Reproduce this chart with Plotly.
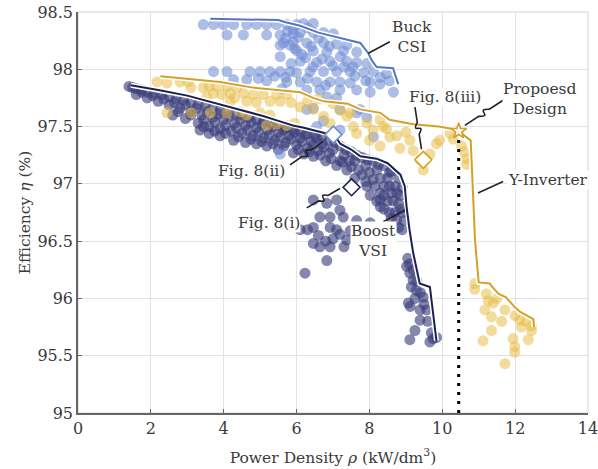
import math
import plotly.graph_objects as go

# ---------------------------------------------------------------------------
# Design-space points (power density rho in kW/dm^3, efficiency eta in %)
# ---------------------------------------------------------------------------
BUCK_CSI_POINTS = [
    (3.44, 98.39), (3.72, 98.39), (3.99, 98.39), (4.27, 98.39), (4.63, 98.39), (4.90, 98.39),
    (5.18, 98.39), (5.45, 98.39), (5.73, 98.39), (6.00, 98.39), (6.19, 98.40), (6.46, 98.40),
    (4.09, 98.30), (4.54, 98.30), (5.18, 98.30), (5.55, 98.30), (5.91, 98.31), (6.10, 98.32),
    (6.46, 98.32), (6.74, 98.32), (7.01, 98.31),
    (5.55, 98.21), (5.82, 98.21), (5.64, 98.23), (5.91, 98.24), (6.28, 98.23), (6.74, 98.23),
    (7.10, 98.22), (7.38, 98.21),
    (6.01, 98.16), (6.46, 98.16), (6.83, 98.15), (7.29, 98.16), (7.65, 98.15),
    (5.55, 98.11), (6.25, 98.10), (6.70, 98.09),
    (6.10, 98.07), (6.55, 98.06), (6.92, 98.07), (7.38, 98.07), (7.65, 98.06), (7.93, 98.05),
    (3.72, 97.98), (4.09, 97.98), (4.72, 97.98), (5.00, 97.98), (5.27, 97.98), (5.55, 97.98),
    (5.82, 97.98), (6.00, 97.97), (6.37, 97.98), (6.74, 97.98), (7.10, 97.98), (7.47, 97.98),
    (7.84, 97.97), (8.11, 97.98), (8.47, 97.96),
    (4.27, 97.91), (4.63, 97.91), (5.18, 97.90), (5.73, 97.89), (6.10, 97.89), (6.55, 97.89),
    (6.92, 97.89), (7.19, 97.89), (7.47, 97.88), (8.02, 97.89), (8.30, 97.93),
    (5.60, 97.83), (6.28, 97.82), (6.64, 97.82), (7.19, 97.82), (7.65, 97.82), (8.02, 97.80),
    (8.29, 97.87), (8.66, 97.80),
    (6.83, 97.76), (7.10, 97.75),
    (6.28, 97.65), (6.46, 97.66), (7.19, 97.65), (7.74, 97.65), (6.74, 97.55),
    (6.55, 97.50), (7.19, 97.47), (7.65, 97.62), (7.93, 97.58), (8.11, 97.41), (5.55, 97.26),
    (5.90, 98.35), (6.30, 98.36), (5.70, 98.27), (6.60, 98.27), (6.90, 98.20), (5.95, 98.18),
    (7.00, 98.03), (7.30, 98.02), (6.45, 98.02), (5.70, 97.93), (6.30, 97.92), (6.80, 97.86),
    (7.60, 97.94), (7.90, 97.90), (8.55, 97.90), (5.75, 98.33), (6.05, 98.28), (6.40, 98.20),
    (6.15, 98.13), (5.85, 98.05), (5.40, 97.94), (4.95, 97.92), (7.20, 98.11), (7.55, 98.02),
]

Y_INVERTER_POINTS = [
    (2.17, 97.89), (2.44, 97.88), (2.80, 97.89), (3.02, 97.89),
    (3.10, 97.84), (3.44, 97.84), (3.60, 97.85), (3.80, 97.85), (4.09, 97.85), (4.36, 97.84),
    (3.53, 97.76), (3.72, 97.79), (3.95, 97.78), (4.18, 97.79), (4.30, 97.75), (4.54, 97.79),
    (4.81, 97.78), (5.09, 97.78), (5.45, 97.78), (5.73, 97.78),
    (4.18, 97.72), (4.63, 97.72), (4.90, 97.71), (5.27, 97.72), (5.55, 97.72), (5.85, 97.71),
    (2.44, 97.62), (3.11, 97.62), (3.63, 97.62), (4.09, 97.62), (4.45, 97.63), (4.63, 97.60),
    (5.00, 97.62), (5.27, 97.60),
    (5.18, 97.51), (5.45, 97.52), (5.73, 97.51), (5.95, 97.53),
    (6.10, 97.67), (6.46, 97.65), (6.30, 97.72), (6.60, 97.74), (7.00, 97.70), (6.74, 97.59),
    (6.92, 97.53), (7.20, 97.64), (7.38, 97.59), (7.56, 97.50), (7.47, 97.62), (7.65, 97.44),
    (7.93, 97.53), (8.29, 97.56), (8.38, 97.50), (8.10, 97.47), (8.00, 97.38),
    (8.29, 97.33), (8.47, 97.48), (8.56, 97.41), (8.75, 97.42), (9.00, 97.45), (8.84, 97.31),
    (9.11, 97.38), (9.20, 97.29), (9.39, 97.21), (9.48, 97.12), (9.66, 97.26), (9.84, 97.35),
    (9.93, 97.38), (10.21, 97.44), (10.30, 97.39), (10.53, 97.33), (10.60, 97.28),
    (10.67, 97.22), (10.67, 97.17),
    (10.89, 96.13), (10.89, 96.08), (11.21, 96.04), (11.26, 95.98), (11.40, 95.96),
    (11.50, 96.00), (11.17, 95.90), (11.35, 95.84), (11.63, 95.80), (11.72, 95.90),
    (12.00, 95.85), (12.13, 95.81), (12.17, 95.75), (12.30, 95.80), (12.45, 95.76),
    (12.45, 95.72), (11.35, 95.72), (11.12, 95.63), (11.94, 95.65), (11.99, 95.58),
    (11.99, 95.53), (12.36, 95.64), (11.72, 95.43),
]

BOOST_VSI_POINTS = [
    # upper edge of the cloud, just under the front
    (1.40, 97.85), (1.50, 97.84), (1.60, 97.83), (1.75, 97.82), (1.90, 97.80), (2.10, 97.79),
    (2.30, 97.78), (2.50, 97.76), (2.70, 97.74), (2.90, 97.73), (3.10, 97.71), (3.30, 97.69),
    (3.50, 97.68), (3.70, 97.66), (3.90, 97.64), (4.10, 97.63), (4.30, 97.61), (4.50, 97.60),
    (4.70, 97.58), (4.90, 97.56), (5.10, 97.55), (5.30, 97.53), (5.50, 97.51), (5.70, 97.49),
    (5.90, 97.47), (6.10, 97.46), (6.30, 97.44), (6.50, 97.42), (6.70, 97.41),
    (1.75, 97.80), (2.05, 97.77), (2.35, 97.74), (2.65, 97.71), (2.95, 97.69), (3.25, 97.66),
    (3.55, 97.63), (3.85, 97.61), (4.15, 97.59), (4.45, 97.56), (4.75, 97.54), (5.05, 97.52),
    (5.35, 97.50), (5.65, 97.47), (5.95, 97.45), (6.25, 97.43), (6.55, 97.40),
    (1.60, 97.78), (1.90, 97.75), (2.20, 97.72), (2.50, 97.69), (2.80, 97.66), (3.10, 97.63),
    (3.40, 97.60), (3.70, 97.58), (4.00, 97.56), (4.30, 97.53), (4.60, 97.51), (4.90, 97.49),
    (5.20, 97.47), (5.50, 97.45), (5.80, 97.42), (6.10, 97.40), (6.40, 97.37), (6.70, 97.35),
    (2.75, 97.63), (3.10, 97.60), (3.45, 97.56), (3.75, 97.54), (4.05, 97.51), (4.35, 97.49),
    (4.65, 97.47), (4.95, 97.45), (5.25, 97.43), (5.55, 97.41), (5.85, 97.39), (6.15, 97.37),
    (6.45, 97.34), (6.75, 97.32),
    (2.60, 97.60), (2.95, 97.57), (3.30, 97.53), (3.60, 97.50), (3.90, 97.48), (4.20, 97.46),
    (4.50, 97.44), (4.80, 97.42), (5.10, 97.40), (5.40, 97.38), (5.70, 97.36), (6.00, 97.34),
    (6.30, 97.31), (6.60, 97.29), (6.90, 97.27),
    (3.45, 97.50), (3.75, 97.46), (4.05, 97.44), (4.40, 97.41), (4.75, 97.39), (5.05, 97.37),
    (5.35, 97.35), (5.65, 97.33), (6.05, 97.30), (6.35, 97.28), (6.65, 97.25), (6.95, 97.22),
    (7.25, 97.19),
    # lower edge of the band
    (3.35, 97.47), (3.60, 97.44), (3.90, 97.42), (4.27, 97.38), (4.60, 97.36), (4.90, 97.35),
    (5.18, 97.33), (5.50, 97.30), (5.91, 97.27), (6.20, 97.26), (6.46, 97.24), (6.80, 97.20),
    (7.10, 97.16), (7.38, 97.12),
    # knee region
    (6.90, 97.38), (7.20, 97.33), (7.50, 97.28), (7.80, 97.23), (8.10, 97.20), (8.40, 97.16),
    (8.60, 97.11), (8.80, 97.05), (8.90, 96.97),
    (7.05, 97.36), (7.35, 97.30), (7.65, 97.25), (7.95, 97.21), (8.25, 97.17), (8.55, 97.10),
    (7.00, 97.30), (7.30, 97.25), (7.60, 97.20), (7.90, 97.16), (8.20, 97.12), (8.50, 97.05),
    (8.70, 96.98), (8.85, 96.90),
    (7.20, 97.20), (7.45, 97.20), (7.70, 97.12), (8.00, 97.10), (8.30, 97.05), (8.55, 96.98),
    (8.75, 96.92), (7.60, 97.05), (7.90, 97.02), (8.15, 96.98), (8.40, 96.90), (8.65, 96.85),
    (8.85, 96.78), (8.30, 96.80), (8.55, 96.75), (8.75, 96.68), (8.90, 96.60),
    (7.50, 97.15), (7.80, 97.08), (8.10, 97.04), (8.40, 96.98), (8.60, 96.92), (8.80, 96.83),
    (8.90, 96.75), (8.95, 96.68), (8.70, 96.75), (8.50, 96.85), (8.30, 96.92),
    (7.93, 96.98), (8.02, 96.90), (8.20, 96.85), (8.40, 96.78), (8.60, 96.70), (8.80, 96.62),
    (8.29, 96.86), (8.02, 96.66), (7.93, 96.55), (7.38, 96.51),
    # scattered low-efficiency designs
    (6.46, 96.86), (6.83, 96.83), (7.10, 96.86), (7.19, 96.77), (7.28, 96.71), (6.64, 96.71),
    (6.92, 96.71), (6.46, 96.62), (6.92, 96.62), (7.19, 96.56), (7.47, 96.59), (7.65, 96.68),
    (6.60, 96.55), (6.30, 96.60), (6.80, 96.50), (7.00, 96.52), (6.46, 96.48), (6.64, 96.45),
    (6.92, 96.45), (6.83, 96.33), (6.23, 96.22), (7.30, 96.45), (6.10, 96.60), (7.10, 96.60),
    (9.02, 96.28), (9.11, 96.22), (9.20, 96.16), (9.29, 96.07), (9.48, 96.01), (9.57, 95.90),
    (9.07, 95.96), (9.12, 95.93), (9.39, 95.90), (9.39, 95.81), (9.25, 95.72), (9.11, 95.64),
    (9.66, 95.62), (9.75, 95.65), (9.84, 95.66), (9.05, 96.35), (9.10, 96.30), (9.20, 96.25),
    (9.30, 96.15), (9.40, 96.05), (9.50, 95.95), (9.60, 95.80), (9.70, 95.70), (9.15, 96.10),
    (9.25, 96.00),
]

# Pareto fronts of the three topologies
BUCK_FRONT_X = [3.63, 5.50, 5.70, 6.10, 6.60, 7.40, 7.75, 7.97, 8.06, 8.20, 8.65, 8.79]
BUCK_FRONT_Y = [98.44, 98.43, 98.41, 98.38, 98.32, 98.26, 98.23, 98.14, 98.08, 98.02, 98.01, 97.87]

Y_FRONT_X = [2.26, 3.00, 3.90, 4.80, 5.50, 6.10, 6.45, 6.75, 7.40, 7.75, 8.30, 8.55, 9.20, 9.90,
             10.45, 10.65, 10.78, 10.90, 11.00, 11.30, 11.40, 11.55, 11.75, 11.85, 12.00, 12.15,
             12.45, 12.50, 12.52]
Y_FRONT_Y = [97.94, 97.92, 97.89, 97.84, 97.82, 97.80, 97.75, 97.72, 97.70, 97.65, 97.62, 97.56,
             97.52, 97.50, 97.47, 97.41, 97.38, 96.50, 96.14, 96.13, 96.09, 96.04, 96.01, 95.97,
             95.92, 95.88, 95.83, 95.82, 95.75]

BOOST_FRONT_X = [1.45, 2.20, 3.00, 3.60, 4.20, 4.80, 5.10, 5.50, 5.90, 6.20, 6.60, 7.05, 7.20,
                 7.50, 7.75, 8.20, 8.50, 8.70, 8.85, 8.97, 9.02, 9.10, 9.20, 9.30, 9.38, 9.66, 9.84]
BOOST_FRONT_Y = [97.86, 97.82, 97.77, 97.72, 97.67, 97.62, 97.59, 97.55, 97.51, 97.49, 97.46,
                 97.42, 97.35, 97.30, 97.24, 97.22, 97.18, 97.12, 97.08, 96.98, 96.80, 96.60,
                 96.40, 96.25, 96.13, 96.10, 95.63]

# Selected designs
FIG8_LABELS = ["Fig. 8(i)", "Fig. 8(ii)", "Fig. 8(iii)"]
FIG8_X = [7.51, 7.01, 9.48]
FIG8_Y = [96.97, 97.43, 97.21]
PROPOSED_X = 10.45
PROPOSED_Y = 97.46

X_TICKS = [0, 2, 4, 6, 8, 10, 12, 14]
Y_TICKS = [95, 95.5, 96, 96.5, 97, 97.5, 98, 98.5]
X_RANGE = [0, 14]
Y_RANGE = [95, 98.5]

# ---------------------------------------------------------------------------
FONT = "DejaVu Serif"
TEXT = "#3a3a3a"
BOOST_DOT = "rgba(58,62,122,0.62)"
BUCK_DOT = "rgba(112,142,212,0.58)"
Y_DOT = "rgba(232,190,72,0.55)"
BOOST_LINE = "#1b2052"
BUCK_LINE = "#5576c2"
Y_LINE = "#d6a025"

W, H = 598, 469
M = dict(l=78, r=10, t=12, b=56)
SX = (W - M["l"] - M["r"]) / (X_RANGE[1] - X_RANGE[0])   # px per kW/dm^3
SY = (H - M["t"] - M["b"]) / (Y_RANGE[1] - Y_RANGE[0])   # px per %

fig = go.Figure()


def add_cloud(points, color):
    fig.add_trace(go.Scatter(
        x=[p[0] for p in points], y=[p[1] for p in points], mode="markers",
        marker=dict(size=11, color=color, line=dict(width=0)), hoverinfo="skip"))


def add_front(xs, ys, color):
    fig.add_trace(go.Scatter(x=xs, y=ys, mode="lines",
                             line=dict(color="white", width=5), hoverinfo="skip"))
    fig.add_trace(go.Scatter(x=xs, y=ys, mode="lines",
                             line=dict(color=color, width=2), hoverinfo="skip"))


add_cloud(BOOST_VSI_POINTS, BOOST_DOT)
add_cloud(BUCK_CSI_POINTS, BUCK_DOT)
add_cloud(Y_INVERTER_POINTS, Y_DOT)

add_front(BUCK_FRONT_X, BUCK_FRONT_Y, BUCK_LINE)
add_front(Y_FRONT_X, Y_FRONT_Y, Y_LINE)
add_front(BOOST_FRONT_X, BOOST_FRONT_Y, BOOST_LINE)

# vertical marker below the proposed design
fig.add_trace(go.Scatter(x=[PROPOSED_X, PROPOSED_X], y=[Y_RANGE[0], PROPOSED_Y - 0.05],
                         mode="lines", line=dict(color="black", width=3, dash="3px,6px"),
                         hoverinfo="skip"))

# highlighted designs
fig.add_trace(go.Scatter(
    x=FIG8_X, y=FIG8_Y, mode="markers", hoverinfo="skip",
    marker=dict(symbol="diamond", size=13, color="white",
                line=dict(width=1.6, color=[BOOST_LINE, "#6f8fd0", Y_LINE]))))
fig.add_trace(go.Scatter(
    x=[PROPOSED_X], y=[PROPOSED_Y], mode="markers", hoverinfo="skip",
    marker=dict(symbol="star", size=12, color="white", line=dict(width=1.6, color=Y_LINE))))


# leader lines with an S-shaped break in the middle
def squiggle(x0, y0, x1, y1, h=9.0):
    ax, ay = x0 * SX, -y0 * SY
    bx, by = x1 * SX, -y1 * SY
    L = math.hypot(bx - ax, by - ay)
    ux, uy = (bx - ax) / L, (by - ay) / L
    nx, ny = -uy, ux
    p1 = (ax + 0.36 * L * ux, ay + 0.36 * L * uy)
    p2 = (ax + 0.64 * L * ux, ay + 0.64 * L * uy)
    c1 = (p2[0] + h * nx, p2[1] + h * ny)
    c2 = (p1[0] - h * nx, p1[1] - h * ny)

    def d(p):
        return f"{p[0] / SX:.4f},{-p[1] / SY:.4f}"

    return f"M {d((ax, ay))} L {d(p1)} C {d(c1)} {d(c2)} {d(p2)} L {d((bx, by))}"


for seg in [(5.82, 97.165, 6.73, 97.37), (6.28, 96.79, 7.19, 96.96),
            (9.25, 97.67, 9.43, 97.30), (10.62, 97.51, 11.67, 97.73)]:
    fig.add_shape(type="path", path=squiggle(*seg), xref="x", yref="y",
                  line=dict(color="#222", width=1.6))

for x0, y0, x1, y1 in [(8.56, 98.24, 7.97, 98.14), (11.67, 97.02, 10.98, 96.92),
                       (8.38, 96.67, 8.97, 96.77)]:
    fig.add_shape(type="line", x0=x0, y0=y0, x1=x1, y1=y1, xref="x", yref="y",
                  line=dict(color="#222", width=1.6))

# text labels
labels = [
    ("Buck<br>CSI", 9.16, 98.28),
    ("Fig. 8(iii)", 10.07, 97.76),
    ("Propoesd<br>Design", 12.68, 97.74),
    ("Y-Inverter", 12.9, 97.03),
    ("Fig. 8(ii)", 4.77, 97.11),
    ("Fig. 8(i)", 5.25, 96.66),
    ("Boost<br>VSI", 8.1, 96.50),
]
for txt, x, y in labels:
    fig.add_annotation(x=x, y=y, text=txt, showarrow=False, xref="x", yref="y",
                       font=dict(family=FONT, size=15.5, color=TEXT),
                       bgcolor="white", borderpad=0)

# light frame for top / right edges
fig.add_shape(type="rect", xref="paper", yref="paper", x0=0, x1=1, y0=0, y1=1,
              line=dict(color="#d4d4d4", width=1), layer="below")

axis_common = dict(showgrid=True, gridcolor="#e2e2e2", gridwidth=1, zeroline=False,
                   showline=True, linecolor="#666", linewidth=1.5, ticks="inside",
                   ticklen=4, tickcolor="#666", tickfont=dict(family=FONT, size=16, color=TEXT),
                   ticklabeloverflow="allow", automargin=False)

fig.update_xaxes(range=X_RANGE, tickvals=X_TICKS, ticktext=[str(v) for v in X_TICKS],
                 title=dict(text="Power Density <i>ρ</i> (kW/dm<sup>3</sup>)",
                            font=dict(family=FONT, size=15.5, color=TEXT), standoff=15),
                 **axis_common)
fig.update_yaxes(range=Y_RANGE, tickvals=Y_TICKS, ticktext=[f"{v:g}" for v in Y_TICKS],
                 title=dict(text="Efficiency <i>η</i> (%)",
                            font=dict(family=FONT, size=15.5, color=TEXT), standoff=3),
                 **axis_common)

fig.update_layout(width=W, height=H, margin=M, showlegend=False,
                  paper_bgcolor="white", plot_bgcolor="white",
                  font=dict(family=FONT, color=TEXT))

fig.write_html("out.html")
